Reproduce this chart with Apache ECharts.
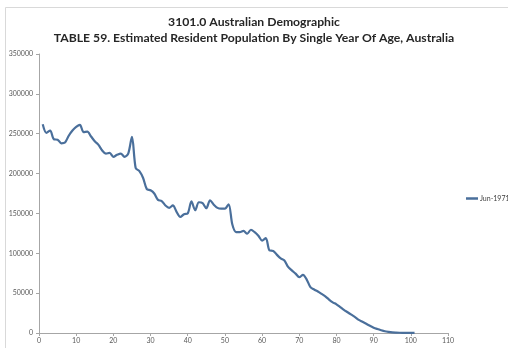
<!DOCTYPE html>
<html>
<head>
<meta charset="utf-8">
<script src="https://cdn.jsdelivr.net/npm/echarts@6/dist/echarts.min.js"></script>
<style>
  html, body { margin: 0; padding: 0; background: #fff; }
  #chart { width: 508px; height: 348px; }
</style>
</head>
<body>
<div id="chart"></div>
<script>
// age axis position (the sheet plots age 0 at x = 1)
const ages = [
  1, 2, 3, 4, 5, 6, 7, 8, 9, 10,
  11, 12, 13, 14, 15, 16, 17, 18, 19, 20,
  21, 22, 23, 24, 25, 26, 27, 28, 29, 30,
  31, 32, 33, 34, 35, 36, 37, 38, 39, 40,
  41, 42, 43, 44, 45, 46, 47, 48, 49, 50,
  51, 52, 53, 54, 55, 56, 57, 58, 59, 60,
  61, 62, 63, 64, 65, 66, 67, 68, 69, 70,
  71, 72, 73, 74, 75, 76, 77, 78, 79, 80,
  81, 82, 83, 84, 85, 86, 87, 88, 89, 90,
  91, 92, 93, 94, 95, 96, 97, 98, 99, 100, 101
];
// Jun-1971 resident population
const jun1971 = [
  261800, 251000, 254000, 243000, 242500, 238000, 239000, 247500, 254000, 258500,
  261000, 252000, 252500, 246500, 240500, 236000, 229000, 225000, 226000, 221000,
  223500, 225000, 221000, 225000, 246000, 207000, 203000, 194500, 180500, 179000,
  175000, 167000, 165500, 160000, 157000, 160000, 152000, 145500, 149000, 150000,
  165000, 154000, 164000, 163000, 156500, 166500, 161000, 157000, 156000, 156000,
  161500, 136000, 126500, 126500, 128000, 124500, 129500, 126500, 122000, 116000,
  119000, 103500, 103000, 98000, 93500, 91000, 83000, 78500, 74500, 70000,
  73000, 67000, 57500, 54500, 52000, 49000, 46000, 42000, 38500, 36000,
  32500, 29000, 26000, 23000, 20000, 16500, 14000, 11500, 9000, 6700,
  5000, 3500, 2200, 1400, 800, 500, 300, 200, 100, 60, 40
];
const seriesName = "Jun-1971";
const titleLines = [
  "3101.0 Australian Demographic",
  "TABLE 59. Estimated Resident Population By Single Year Of Age, Australia"
];

const chart = echarts.init(document.getElementById("chart"));
const axisColor = "#a6a6a6";
const labelStyle = { color: "#595959", fontSize: 7, fontFamily: "Lato" };

chart.setOption({
  animation: false,
  backgroundColor: "#fff",
  graphic: [{
    type: "rect",
    shape: { x: 5.5, y: 7.5, width: 520, height: 360 },
    style: { fill: "none", stroke: "#d9d9d9", lineWidth: 1 },
    silent: true
  }],
  title: {
    text: titleLines.join("\n"),
    left: "center",
    top: 14,
    padding: 0,
    textStyle: {
      fontFamily: "Lato",
      fontWeight: "bold",
      fontSize: 12.2,
      lineHeight: 16,
      color: "#262626"
    }
  },
  legend: {
    data: [seriesName],
    left: 466,
    top: 195,
    padding: 0,
    icon: "rect",
    itemWidth: 12,
    itemHeight: 2.5,
    itemGap: 2,
    textStyle: { color: "#404040", fontSize: 7, fontFamily: "Lato", padding: [0, 0, 0, -3] }
  },
  grid: {
    left: 39,
    right: 60,
    top: 54,
    bottom: 15,
    containLabel: false,
    outerBoundsMode: "none"
  },
  xAxis: {
    type: "value",
    min: 0,
    max: 110,
    interval: 10,
    splitLine: { show: false },
    axisLine: { show: true, lineStyle: { color: axisColor } },
    axisTick: { show: true, length: 3, lineStyle: { color: axisColor } },
    axisLabel: Object.assign({ margin: 4 }, labelStyle)
  },
  yAxis: {
    type: "value",
    min: 0,
    max: 350000,
    interval: 50000,
    splitLine: { show: false },
    axisLine: { show: true, lineStyle: { color: axisColor } },
    axisTick: { show: true, length: 3, lineStyle: { color: axisColor } },
    axisLabel: Object.assign({ margin: 6, formatter: (v) => String(v) }, labelStyle)
  },
  series: [{
    name: seriesName,
    type: "line",
    data: ages.map((a, i) => [a, jun1971[i]]),
    showSymbol: false,
    smooth: 0.3,
    lineStyle: { color: "#4a6f9b", width: 2.2 },
    itemStyle: { color: "#4a6f9b" }
  }]
});
</script>
</body>
</html>
